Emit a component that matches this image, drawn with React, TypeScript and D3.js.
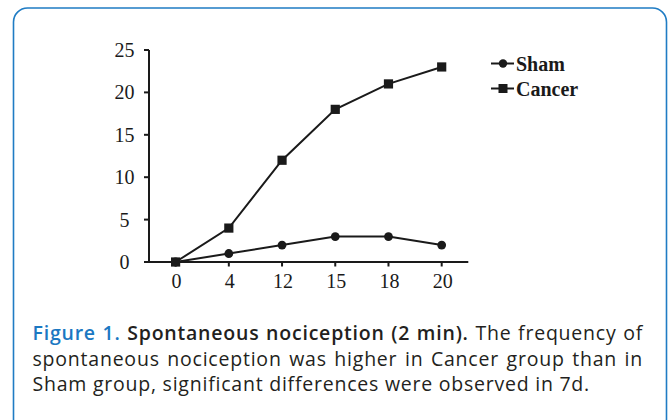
import React, { useEffect, useRef } from "react";
import * as d3 from "d3";

const days = ["0", "4", "12", "15", "18", "20"];
const shamValues = [0, 1, 2, 3, 3, 2];
const cancerValues = [0, 4, 12, 18, 21, 23];
const yTicks = [0, 5, 10, 15, 20, 25];

const captionLines = [
  [
    { text: "Figure 1.", weight: "600", color: "#1b78c2" },
    { text: "Spontaneous nociception (2 min).", weight: "600", color: "#231f20" },
    { text: "The frequency of", weight: "normal", color: "#231f20" },
  ],
  [
    {
      text: "spontaneous nociception was higher in Cancer group than in",
      weight: "normal",
      color: "#231f20",
    },
  ],
  [
    {
      text: "Sham group, significant differences were observed in 7d.",
      weight: "normal",
      color: "#231f20",
    },
  ],
];

const W = 670;
const H = 420;

const App: React.FC = () => {
  const captionRef = useRef<SVGGElement | null>(null);

  useEffect(() => {
    document.body.style.margin = "0";
    if (!captionRef.current) return;
    const g = d3.select(captionRef.current);
    g.selectAll("*").remove();

    const left = 32.5;
    const right = 643;
    const lastRight = 590;
    const baselines = [340, 365.5, 391];
    const font = "'Open Sans', Lato, sans-serif";
    const size = "19.5px";

    // fit the last (unjustified) line by a small tracking adjustment
    const lastText = captionLines[2][0].text;
    const probe = g
      .append("text")
      .style("font-family", font)
      .style("font-size", size)
      .text(lastText);
    const natural = (probe.node() as SVGTextElement).getComputedTextLength();
    probe.remove();
    const ls = (lastRight - left - natural) / (lastText.length - 1);

    captionLines.forEach((segs, li) => {
      const words: { text: string; weight: string; color: string }[] = [];
      segs.forEach((s) =>
        s.text.split(" ").forEach((w) => words.push({ ...s, text: w }))
      );
      const nodes = words.map((w) =>
        g
          .append("text")
          .attr("y", baselines[li])
          .attr("fill", w.color)
          .attr("font-weight", w.weight)
          .style("font-family", font)
          .style("font-size", size)
          .style("letter-spacing", `${ls}px`)
          .text(w.text)
      );
      const widths = nodes.map((n) => (n.node() as SVGTextElement).getComputedTextLength());
      const total = d3.sum(widths);
      const end = li < captionLines.length - 1 ? right : lastRight;
      const gap = (end - left - total) / (words.length - 1);
      let x = left;
      nodes.forEach((n, i) => {
        n.attr("x", x);
        x += widths[i] + gap;
      });
    });
  }, []);

  const x = d3.scalePoint<string>().domain(days).range([149, 468.3]).padding(0.5);
  const y = d3.scaleLinear().domain([0, 25]).range([262, 50]);

  const line = d3
    .line<number>()
    .x((_, i) => x(days[i])!)
    .y((d) => y(d));

  const ink = "#1a1a1a";
  const serif = "'Liberation Serif', 'Times New Roman', serif";

  return (
    <svg width={W} height={H} style={{ display: "block", background: "#fff" }}>
      <rect
        x={13.5}
        y={8}
        width={653}
        height={425}
        rx={14}
        fill="#fff"
        stroke="#1f7cc4"
        strokeWidth={1.6}
      />

      {/* axes */}
      <g stroke={ink} strokeWidth={2} fill="none">
        <line x1={149} x2={149} y1={y(25)} y2={y(0) + 1} />
        <line x1={148} x2={468.3} y1={y(0)} y2={y(0)} />
        {yTicks.map((t) => (
          <line key={t} x1={144} x2={149} y1={y(t)} y2={y(t)} />
        ))}
        {days.map((d) => (
          <line key={d} x1={x(d)} x2={x(d)} y1={y(0)} y2={y(0) + 4.5} />
        ))}
      </g>
      <g fill={ink} style={{ fontFamily: serif, fontSize: 20 }}>
        {yTicks.map((t) => (
          <text key={t} x={124.5} y={y(t) + 7} textAnchor="middle">
            {t}
          </text>
        ))}
        {days.map((d) => (
          <text key={d} x={x(d)! + 1} y={287.5} textAnchor="middle">
            {d}
          </text>
        ))}
      </g>

      {/* series */}
      <path d={line(shamValues) ?? ""} fill="none" stroke={ink} strokeWidth={2} />
      <path d={line(cancerValues) ?? ""} fill="none" stroke={ink} strokeWidth={2} />
      {shamValues.map((v, i) => (
        <circle key={i} cx={x(days[i])} cy={y(v)} r={4.4} fill={ink} />
      ))}
      {cancerValues.map((v, i) => (
        <rect
          key={i}
          x={x(days[i])! - 4.6}
          y={y(v) - 4.6}
          width={9.2}
          height={9.2}
          fill={ink}
        />
      ))}

      {/* legend */}
      <g>
        <line x1={491} x2={514} y1={63.5} y2={63.5} stroke={ink} strokeWidth={2} />
        <circle cx={503} cy={63.5} r={4.2} fill={ink} />
        <line x1={491} x2={514} y1={88.5} y2={88.5} stroke={ink} strokeWidth={2} />
        <rect x={498.5} y={84} width={9} height={9} fill={ink} />
        <text x={516} y={71} fill={ink} style={{ fontFamily: serif, fontSize: 20, fontWeight: "bold" }}>
          Sham
        </text>
        <text x={516} y={96} fill={ink} style={{ fontFamily: serif, fontSize: 20, fontWeight: "bold" }}>
          Cancer
        </text>
      </g>

      <g ref={captionRef} />
    </svg>
  );
};

export default App;
